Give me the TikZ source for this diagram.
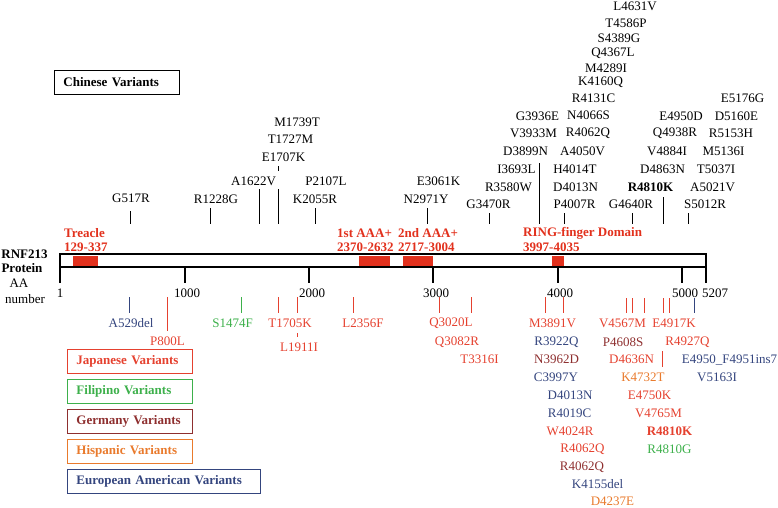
\documentclass[tikz,border=0pt]{standalone}
\usepackage{fontspec}
\setmainfont{Liberation Serif}
\definecolor{jpred}{HTML}{E5412F}
\definecolor{domred}{HTML}{E2311D}
\definecolor{phgreen}{HTML}{3DB04B}
\definecolor{debrown}{HTML}{8E2F2F}
\definecolor{hsorange}{HTML}{E97A2C}
\definecolor{eunavy}{HTML}{34457E}
\tikzset{
  var/.style={inner sep=0pt,font=\fontsize{13}{15}\selectfont},
  hdr/.style={inner sep=0pt,font=\bfseries\fontsize{13}{15}\selectfont},
  dom/.style={hdr,domred,anchor=west},
  dombox/.style={fill=domred,draw=none},
  legbox/.style={draw,line width=0.9pt,minimum height=24pt,inner xsep=9pt,inner ysep=0pt,
    anchor=west,text width=107pt,align=left,font=\bfseries\fontsize{13}{15}\selectfont},
  vtick/.style={line width=0.8pt},
  major/.style={line width=1.6pt}
}
\begin{document}
\begin{tikzpicture}[x=1pt,y=-1pt]
\useasboundingbox (0,0) rectangle (778,507);
% protein bar
\draw[major] (60,283) -- (60,254) -- (706,254) -- (706,283);
\draw[major] (60,267) -- (706,267);
\foreach \x in {185,309,433,558,682}
  \draw[major] (\x,267) -- (\x,283);
\fill[dombox] (73,255.5) rectangle (98,265.5);
\fill[dombox] (359,255.5) rectangle (390,265.5);
\fill[dombox] (403,255.5) rectangle (433,265.5);
\fill[dombox] (552,255.5) rectangle (564,265.5);
\node(t1)[var] at (60,293){1};
\node(t1000)[var] at (187,293){1000};
\node(t2000)[var] at (312,293){2000};
\node(t3000)[var] at (436,293){3000};
\node(t4000)[var] at (560,293){4000};
\node(t5000)[var] at (685,293){5000};
\node(t5207)[var] at (715,293){5207};
\node(rnf)[hdr] at (24.5,254){RNF213};
\node(prot)[hdr] at (22,268){Protein};
\node(aa)[var] at (19,283){AA};
\node(num)[var] at (25,299){number};
% domains
\node(treacle)[dom] at (64,233){Treacle};
\node(treaclepos)[dom] at (64,247){129-337};
\node(aaa1)[dom] at (337,233){1st AAA+};
\node(aaa1pos)[dom] at (337,247){2370-2632};
\node(aaa2)[dom] at (398,233){2nd AAA+};
\node(aaa2pos)[dom] at (398,247){2717-3004};
\node(ring)[dom] at (523,233){RING-finger Domain};
\node(ringpos)[dom] at (523,247){3997-4035};
% chinese variants
\node(cnbox)[legbox] at (54,82){Chinese Variants};
\draw[vtick] (130,211) -- (130,224);
\draw[vtick] (210,208) -- (210,224);
\draw[vtick] (259,189) -- (259,224);
\draw[vtick] (278,189) -- (278,224);
\draw[vtick] (278,166) -- (278,171);
\draw[vtick] (315,208) -- (315,224);
\draw[vtick] (427,208) -- (427,224);
\draw[vtick] (489,213) -- (489,224);
\draw[vtick] (539,163) -- (539,224);
\draw[vtick] (564,213) -- (564,224);
\draw[vtick] (632,213) -- (632,224);
\draw[vtick] (663,197) -- (663,224);
\draw[vtick] (688,213) -- (688,224);
\node(G517R)[var] at (131,198){G517R};
\node(R1228G)[var] at (216,199){R1228G};
\node(A1622V)[var] at (253.5,181){A1622V};
\node(E1707K)[var] at (283.5,157){E1707K};
\node(T1727M)[var] at (290.5,139){T1727M};
\node(M1739T)[var] at (297,122){M1739T};
\node(K2055R)[var] at (315,199){K2055R};
\node(P2107L)[var] at (326,181){P2107L};
\node(N2971Y)[var] at (426,199){N2971Y};
\node(E3061K)[var] at (438.5,181){E3061K};
\node(G3470R)[var] at (488.5,204){G3470R};
\node(R3580W)[var] at (508.5,187){R3580W};
\node(I3693L)[var] at (516.5,169){I3693L};
\node(D3899N)[var] at (525.5,151){D3899N};
\node(V3933M)[var] at (533.5,133){V3933M};
\node(G3936E)[var] at (537.5,116){G3936E};
\node(P4007R)[var] at (574.5,204){P4007R};
\node(D4013Nu)[var] at (575.5,187){D4013N};
\node(H4014T)[var] at (575,169){H4014T};
\node(A4050V)[var] at (582.5,151){A4050V};
\node(R4062Qu)[var] at (588,133){R4062Q};
\node(N4066S)[var] at (588.5,115){N4066S};
\node(R4131C)[var] at (593.5,98){R4131C};
\node(K4160Q)[var] at (600.5,82){K4160Q};
\node(M4289I)[var] at (606,68){M4289I};
\node(Q4367L)[var] at (613,53){Q4367L};
\node(S4389G)[var] at (619,38){S4389G};
\node(T4586P)[var] at (626,23){T4586P};
\node(L4631V)[var] at (635,6){L4631V};
\node(G4640R)[var] at (631,204){G4640R};
\node(R4810Ku)[hdr] at (650.5,187){R4810K};
\node(D4863N)[var] at (662.5,169){D4863N};
\node(V4884I)[var] at (667,151){V4884I};
\node(Q4938R)[var] at (675,133){Q4938R};
\node(E4950D)[var] at (681,116){E4950D};
\node(S5012R)[var] at (705,204){S5012R};
\node(A5021V)[var] at (712.5,187){A5021V};
\node(T5037I)[var] at (716,169){T5037I};
\node(M5136I)[var] at (723.5,151){M5136I};
\node(R5153H)[var] at (731,133){R5153H};
\node(D5160E)[var] at (736.5,116){D5160E};
\node(E5176G)[var] at (742.5,98){E5176G};
% other variants
\draw[vtick,eunavy] (129,297) -- (129,313);
\draw[vtick,jpred] (167,297) -- (167,331);
\draw[vtick,phgreen] (241,297) -- (241,313);
\draw[vtick,jpred] (278,297) -- (278,313);
\draw[vtick,jpred] (297,297) -- (297,313);
\draw[vtick,jpred] (297,333) -- (297,337);
\draw[vtick,jpred] (353,297) -- (353,313);
\draw[vtick,jpred] (439,297) -- (439,313);
\draw[vtick,jpred] (471,297) -- (471,313);
\draw[vtick,jpred] (545,297) -- (545,313);
\draw[vtick,jpred] (563,297) -- (563,313);
\foreach \x in {626,632,644,663,669}
  \draw[vtick,jpred] (\x,298) -- (\x,313);
\draw[vtick,eunavy] (694,298) -- (694,313);
\draw[vtick,jpred] (662,351) -- (662,367);
\node(A529del)[var,eunavy] at (131,323){A529del};
\node(P800L)[var,jpred] at (167.5,341){P800L};
\node(S1474F)[var,phgreen] at (232.5,323){S1474F};
\node(T1705K)[var,jpred] at (290,323){T1705K};
\node(L1911I)[var,jpred] at (299,347){L1911I};
\node(L2356F)[var,jpred] at (363,323){L2356F};
\node(Q3020L)[var,jpred] at (451,323){Q3020L};
\node(Q3082R)[var,jpred] at (457,342){Q3082R};
\node(T3316I)[var,jpred] at (479.5,359){T3316I};
\node(M3891V)[var,jpred] at (552.5,323){M3891V};
\node(R3922Q)[var,eunavy] at (556.5,342){R3922Q};
\node(N3962D)[var,debrown] at (556.5,359){N3962D};
\node(C3997Y)[var,eunavy] at (556,377){C3997Y};
\node(D4013Nl)[var,eunavy] at (570,395){D4013N};
\node(R4019C)[var,eunavy] at (569.5,413){R4019C};
\node(W4024R)[var,jpred] at (570,431){W4024R};
\node(R4062Qj)[var,jpred] at (582.5,449){R4062Q};
\node(R4062Qd)[var,debrown] at (582,467){R4062Q};
\node(K4155del)[var,eunavy] at (597.5,484){K4155del};
\node(D4237E)[var,hsorange] at (612.5,501){D4237E};
\node(V4567M)[var,jpred] at (622.5,323){V4567M};
\node(P4608S)[var,debrown] at (623,342){P4608S};
\node(D4636N)[var,jpred] at (631.5,359){D4636N};
\node(K4732T)[var,hsorange] at (643,377){K4732T};
\node(E4750K)[var,jpred] at (649.5,395){E4750K};
\node(V4765M)[var,jpred] at (658.5,413){V4765M};
\node(R4810Kl)[hdr,jpred] at (669.5,431){R4810K};
\node(R4810G)[var,phgreen] at (669.5,449){R4810G};
\node(E4917K)[var,jpred] at (674,323){E4917K};
\node(R4927Q)[var,jpred] at (687.5,342){R4927Q};
\node(E4950ins)[var,eunavy] at (729.5,360){E4950\_F4951ins7};
\node(V5163I)[var,eunavy] at (717,377){V5163I};
% legend
\node(jpbox)[legbox,jpred] at (67,361){Japanese Variants};
\node(phbox)[legbox,phgreen] at (67,391){Filipino Variants};
\node(debox)[legbox,debrown] at (67,421){Germany Variants};
\node(hsbox)[legbox,hsorange] at (67,451){Hispanic Variants};
\node(eubox)[legbox,eunavy,text width=175pt] at (67,481){European American Variants};
\end{tikzpicture}
\end{document}
